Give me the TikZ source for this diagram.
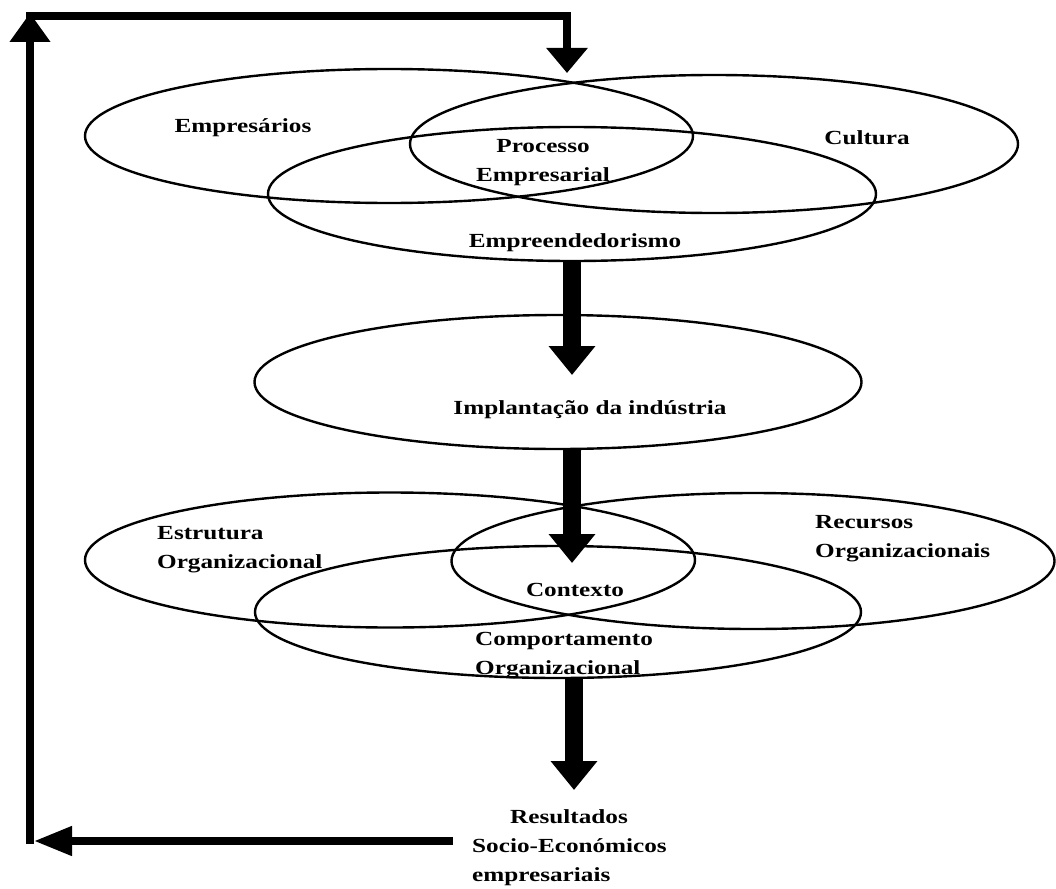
\documentclass[tikz,border=0pt]{standalone}
\usepackage{fontspec}
\setmainfont{Liberation Serif}[FakeStretch=1.26]
\usetikzlibrary{arrows.meta,shapes.geometric}
\begin{document}
\begin{tikzpicture}[x=1pt,y=-1pt,
  oval/.style={draw, line width=2.4pt, ellipse, inner sep=0pt},
  lbl/.style={font=\bfseries\fontsize{20}{29}\selectfont, inner sep=0pt},
  bigarrow/.style={line width=18pt, -{Triangle[length=29pt,width=45pt]}},
  loopline/.style={line width=7.5pt, line join=miter}]
\useasboundingbox (0,0) rectangle (1056,888);
% top group
\node[oval, minimum width=608pt, minimum height=134pt] (eEmp) at (389,136) {};
\node[oval, minimum width=608pt, minimum height=138pt] (eCul) at (714,144) {};
\node[oval, minimum width=608pt, minimum height=134pt] (eEnt) at (572,194) {};
% middle
\node[oval, minimum width=607pt, minimum height=134pt] (eImp) at (558,382) {};
% bottom group
\node[oval, minimum width=610pt, minimum height=135pt] (eEst) at (390,560) {};
\node[oval, minimum width=603pt, minimum height=136pt] (eRec) at (753,561) {};
\node[oval, minimum width=606pt, minimum height=132pt] (eCom) at (558,612) {};
% labels
\node[lbl] (tEmp) at (243,128) {Empresários};
\node[lbl] (tCul) at (867,138) {Cultura};
\node[lbl, align=center] (tPro) at (543,163) {Processo\\Empresarial};
\node[lbl] (tEnt) at (575,243) {Empreendedorismo};
\node[lbl] (tImp) at (590,410) {Implantação da indústria};
\node[lbl, align=left, anchor=west] (tEst) at (157,550) {Estrutura\\Organizacional};
\node[lbl, align=left, anchor=west] (tRec) at (815,539) {Recursos\\Organizacionais};
\node[lbl] (tCon) at (575,590) {Contexto};
\node[lbl, align=left, anchor=west] (tCom) at (475,656) {Comportamento\\Organizacional};
\node[lbl, align=left, anchor=west] (tRes) at (472,848) {\hspace*{38pt}Resultados\\Socio-Económicos\\empresariais};
% big arrows
\coordinate (a1s) at (572,262); \coordinate (a1e) at (572,375);
\coordinate (a2s) at (572,450); \coordinate (a2e) at (572,563);
\coordinate (a3s) at (574,678); \coordinate (a3e) at (574,790);
\draw[bigarrow] (a1s) -- (a1e);
\draw[bigarrow] (a2s) -- (a2e);
\draw[bigarrow] (a3s) -- (a3e);
% feedback loop
\coordinate (bstart) at (453,841); \coordinate (bcorner) at (34,841);
\coordinate (vbot) at (30,844); \coordinate (vtop) at (30,13);
\coordinate (tl) at (26.25,16); \coordinate (tr) at (567,16); \coordinate (tdown) at (567,73);
\draw[loopline, -{Triangle[length=38pt,width=28pt]}] (bstart) -- (bcorner);
\draw[loopline, -{Triangle[length=29pt,width=39pt]}] (vbot) -- (vtop);
\draw[loopline, -{Triangle[length=25pt,width=40pt]}] (tl) -- (tr) -- (tdown);
\end{tikzpicture}
\end{document}
